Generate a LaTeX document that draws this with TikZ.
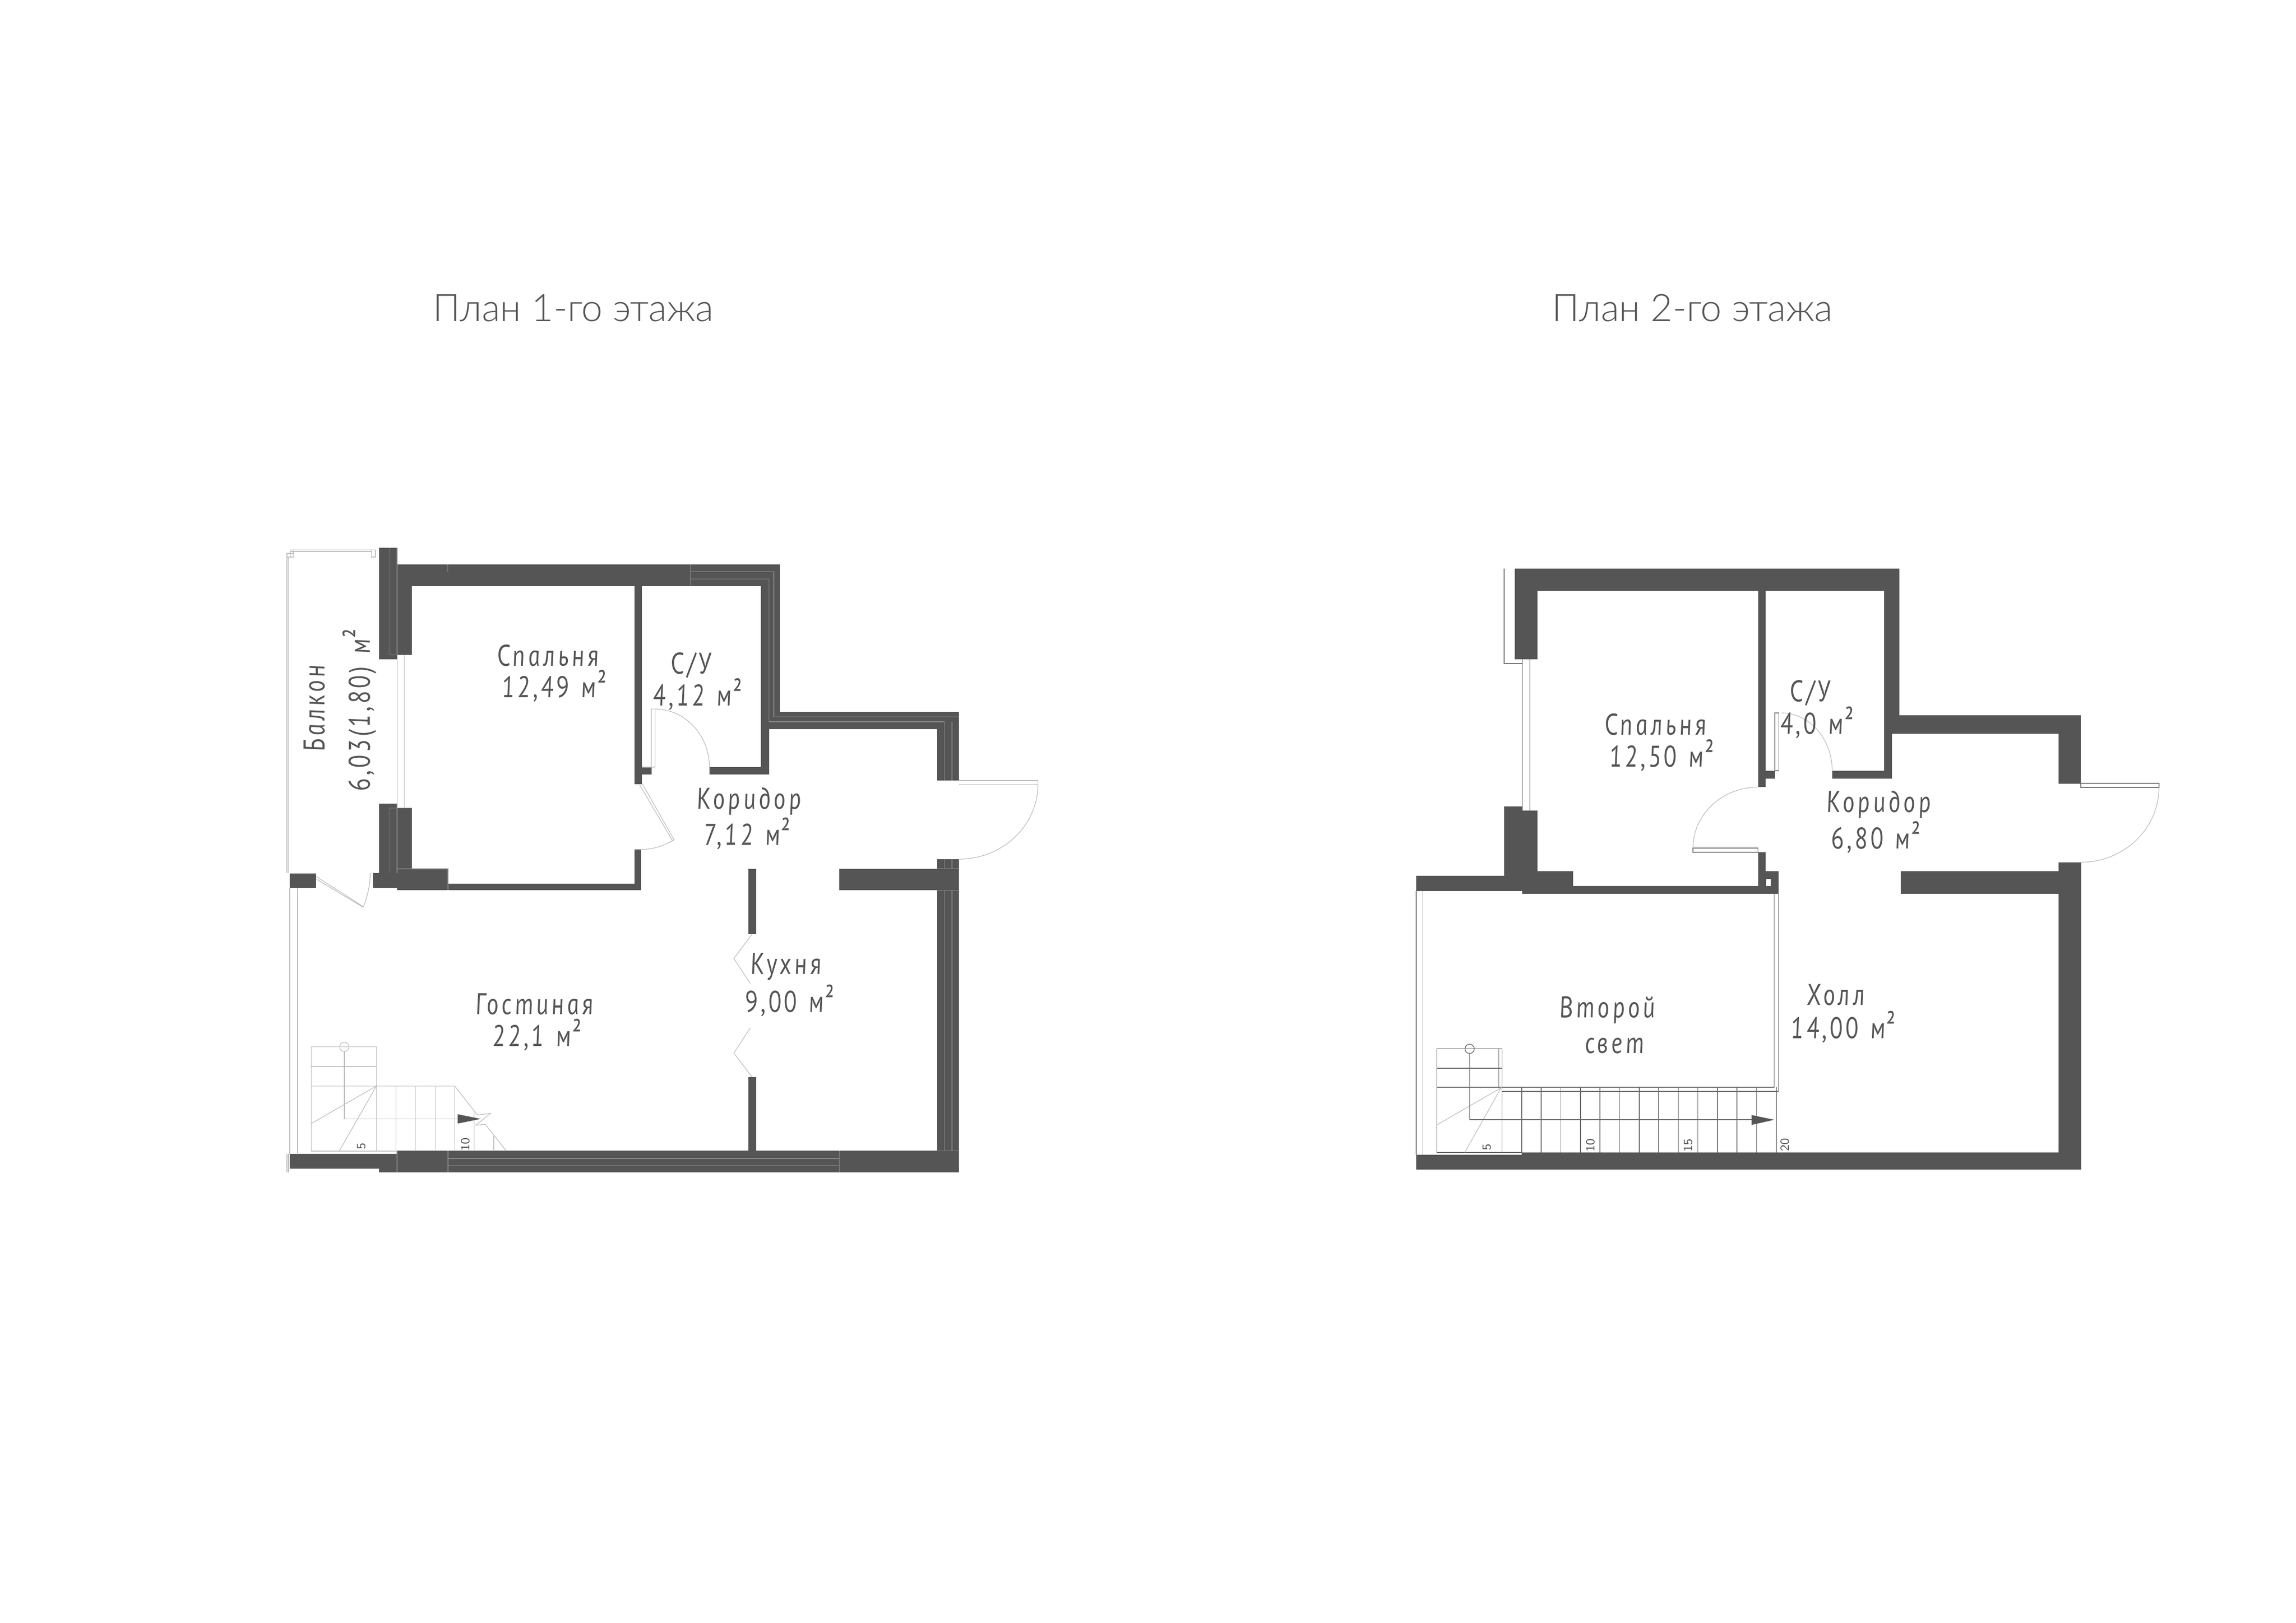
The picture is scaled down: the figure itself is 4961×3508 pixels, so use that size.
\documentclass[tikz,border=0pt]{standalone}
\usepackage{fontspec}
\usetikzlibrary{calc}
\newfontfamily\roomfont{PT Sans}[UprightFont={* Italic},FakeSlant=-0.13,FakeStretch=0.81,LetterSpace=10,WordSpace=1.3]
\newfontfamily\titlefont{Lato Light}
\definecolor{wallgrey}{HTML}{555555}
\definecolor{seamgrey}{HTML}{8C8C8C}
\definecolor{palegrey}{HTML}{BDBDBD}
\definecolor{stairgrey}{HTML}{6A6A6A}
\tikzset{
  wall/.style={fill=wallgrey,draw=none},
  seam/.style={draw=seamgrey,line width=0.14mm},
  paleline/.style={draw=palegrey,line width=0.14mm},
  darkline/.style={draw=stairgrey,line width=0.16mm},
  room/.style={font=\roomfont\fontsize{18.4pt}{20pt}\selectfont,text=wallgrey,anchor=base,inner sep=0pt},
  flight/.style={font=\sffamily\fontsize{7.6pt}{8pt}\selectfont,text=wallgrey,rotate=90,inner sep=0pt},
  plantitle/.style={font=\titlefont\fontsize{23.3pt}{26pt}\selectfont,text=wallgrey,anchor=base,inner sep=0pt}
}
% quarter swing of a door: start, corner, end
\newcommand{\doorswing}[4][paleline]{%
  \draw[#1] (#2) .. controls ($(#2)!0.5523!(#3)$) and ($(#4)!0.5523!(#3)$) .. (#4);}
% the raised square sign
\newcommand{\sqsign}{\raisebox{0.7mm}{²}}

\begin{document}
\begin{tikzpicture}[x=0.1mm,y=-0.1mm]
    \useasboundingbox (0,0) rectangle (4961,3508);

    \node[plantitle] (title1) at (1239,695) {План 1-го этажа};
    \node[plantitle] (title2) at (3657,695) {План 2-го этажа};

    % first floor, walls
    \fill[wall] (819,1184) rectangle (858,1425);
    \fill[wall] (858,1220) rectangle (1685,1267);
    \fill[wall] (857,1266) rectangle (890,1416);
    \fill[wall] (1370.5,1266) rectangle (1386.6,1695);
    \fill[wall] (1386,1658) rectangle (1408,1674.4);
    \fill[wall] (1370.5,1836) rectangle (1385.4,1924);
    \fill[wall] (858,1909.6) rectangle (1385.4,1924);
    \fill[wall] (858,1878) rectangle (968,1924);
    \fill[wall] (819,1737) rectangle (858.5,1887.5);
    \fill[wall] (857,1746.3) rectangle (890,1878.5);
    \fill[wall] (626,1887.5) rectangle (683,1919);
    \fill[wall] (806,1887) rectangle (858,1919);
    \fill[wall] (1644.4,1266) rectangle (1684.6,1576.4);
    \fill[wall] (1644.4,1576) rectangle (1661.6,1674.4);
    \fill[wall] (1532.8,1658) rectangle (1661.6,1674.4);
    \fill[wall] (1684,1539.2) rectangle (2071.7,1576.4);
    \fill[wall] (2025,1576) rectangle (2071.7,1687);
    \fill[wall] (2025.4,1857) rectangle (2072,2488);
    \fill[wall] (1813.4,1877.5) rectangle (2072,1924.4);
    \fill[wall] (1617.2,1877.5) rectangle (1634.4,2019);
    \fill[wall] (1617.2,2328) rectangle (1634.4,2488);
    \fill[wall] (858,2487.3) rectangle (2072,2534);
    \fill[wall] (626,2494) rectangle (858.5,2526);
    \fill[wall] (819,2526) rectangle (858.5,2534);

    % first floor, seams inside the walls
    \draw[seam] (842.3,1184) -- (842.3,1415.7) -- (890,1415.7) (858,1184) -- (858,1416);
    \draw[seam] (967.5,1220) -- (967.5,1235.6);
    \draw[seam] (1491.3,1220) -- (1491.3,1267);
    \draw[seam] (1491.3,1235.6) -- (1671.8,1235.6) -- (1671.8,1549.4) -- (2071.7,1549.4);
    \draw[seam] (1491.3,1251.4) -- (1661.6,1251.4) -- (1661.6,1560) -- (2040.5,1560) -- (2040.5,1687);
    \draw[seam] (2057,1560) -- (2057,1687);
    \draw[seam] (842.3,1887) -- (842.3,1746.3) -- (890,1746.3) (858,1737) -- (858,1887);
    \draw[seam] (858,1878) -- (968,1878) -- (968,1924);
    \draw[seam] (968,2487.3) -- (968,2534) (968,2504) -- (1813.4,2504) (968,2519.4) -- (1813.4,2519.4);
    \draw[seam] (1813.4,2487.3) -- (1813.4,2534);
    \draw[seam] (858,2487.3) -- (858,2534) (1813.4,1877.5) -- (1813.4,1924.4);
    \draw[seam] (2025.4,1877.5) -- (2072,1877.5) (2025.4,1924.4) -- (2072,1924.4) (2025.4,2487.3) -- (2072,2487.3);
    \foreach \x in {2040.7,2057} {
        \draw[seam] (\x,1857) -- (\x,1877.5);
        \draw[seam] (\x,1924.4) -- (\x,2487.3);
    }

    % first floor, windows and balcony rail
    \draw[paleline] (858.4,1416) -- (858.4,1746) (873.3,1416) -- (873.3,1746);
    \draw[paleline] (627.6,1188.7) -- (810.8,1188.7) (627.6,1192) -- (802.7,1192);
    \draw[paleline] (802.7,1188.7) rectangle (810.8,1204);
    \draw[paleline] (620,1196) rectangle (634.5,1204) (627.6,1188.7) rectangle (634.5,1204);
    \draw[paleline] (620,1204) -- (620,1887) (623.6,1204) -- (623.6,1887);
    \draw[paleline] (626,1919) -- (626,2495) (643,1919) -- (643,2495);
    \draw[paleline] (620,2494) -- (620,2534) (623,2494) -- (623,2534);

    % first floor, doors
    \draw[paleline] (1382,1696) -- (1453,1817) -- (1456.6,1815) -- (1387.7,1694);
    \draw[paleline] (1456.6,1815) .. controls (1428,1832) and (1405,1836) .. (1385.4,1836);
    \draw[paleline] (683.3,1894.5) -- (785.4,1960) (683.3,1900) -- (783,1960);
    \draw[paleline] (785.4,1960) .. controls (795,1935) and (800,1910) .. (800,1887);
    \draw[paleline] (1407,1658) -- (1407,1532.6) -- (1415.4,1532.6) -- (1415.4,1658) -- (1386.6,1658);
    \doorswing{1415.4,1532.6}{1532.8,1532.6}{1532.8,1658}
    \draw[paleline] (2071.7,1687) -- (2242.6,1687) -- (2242.6,1695.3) -- (2071.7,1695.3);
    \doorswing{2242.6,1695.3}{2242.6,1857}{2071.7,1857}
    \draw[paleline] (1625,2019) -- (1585.6,2071.8) -- (1621,2125.5);
    \draw[paleline] (1621,2222) -- (1585.6,2276) -- (1625,2328);

    % first floor, stair
    \draw[paleline] (672.5,2262.3) rectangle (813.4,2488);
    \draw[paleline] (672.5,2305) -- (813.4,2305) (672.5,2347.2) -- (982.4,2347.2);
    \foreach \x in {855.5,897.6,940.3,982.4} {
        \draw[paleline] (\x,2347.2) -- (\x,2488);
    }
    \draw[paleline] (672.5,2488) -- (858,2488);
    \draw[paleline] (1024.5,2403) -- (1024.5,2488) (1067,2454.7) -- (1067,2488);
    \draw[paleline] (982.4,2347.2) -- (1031.5,2410) -- (1060,2406.5) -- (1028,2432) -- (1048.7,2430.3) -- (1093.4,2487);
    \draw[paleline] (672.5,2428.5) -- (813.4,2347.2) -- (733,2488);
    \draw[paleline] (744,2262.8) circle[radius=10];
    \draw[paleline] (744,2272.8) -- (744,2418.4) -- (988.8,2418.4);
    \fill[wallgrey] (988.8,2408.3) -- (1039,2418.4) -- (988.8,2428.5) -- cycle;
    \node[flight] (step5a) at (781,2477.6) {5};
    \node[flight] (step10a) at (1006,2473.5) {10};

    % first floor, rooms
    \node[room] (bed1) at (1186,1439) {Спальня};
    \node[room] (bed1area) at (1198,1507.6) {12,49 м\sqsign};
    \node[room] (bath1) at (1495,1456.5) {С/У};
    \node[room] (bath1area) at (1508,1525) {4,12 м\sqsign};
    \node[room] (hall1) at (1620,1748) {Коридор};
    \node[room] (hall1area) at (1615,1826.4) {7,12 м\sqsign};
    \node[room] (living) at (1157,2192) {Гостиная};
    \node[room] (livingarea) at (1161,2261) {22,1 м\sqsign};
    \node[room] (kitchen) at (1700,2105) {Кухня};
    \node[room] (kitchenarea) at (1707,2187.5) {9,00 м\sqsign};
    \node[room,rotate=90] (balcony) at (701.7,1528.5) {Балкон};
    \node[room,rotate=90] (balconyarea) at (799,1534) {6,03(1,80) м\sqsign};

    % second floor, walls
    \fill[wall] (3273,1229) rectangle (4104,1277);
    \fill[wall] (3273,1276) rectangle (3321.5,1425);
    \fill[wall] (3798.5,1276) rectangle (3815,1701.4);
    \fill[wall] (3814,1665.7) rectangle (3835,1682.5);
    \fill[wall] (3798.5,1842) rectangle (3815.4,1915);
    \fill[wall] (3815,1883) rectangle (3842.5,1931.5);
    \fill[wall] (3289,1914.7) rectangle (3842.5,1931.5);
    \fill[wall] (3321,1883) rectangle (3399,1915);
    \fill[wall] (3250,1742.8) rectangle (3289.6,1893);
    \fill[wall] (3289,1752.4) rectangle (3321.5,1926);
    \fill[wall] (3060,1893) rectangle (3289.6,1926);
    \fill[white] (3815.6,1900) rectangle (3825.8,1914.6);
    \fill[wall] (4071,1276) rectangle (4104,1585.6);
    \fill[wall] (4071,1546.3) rectangle (4496,1585.6);
    \fill[wall] (4071,1585) rectangle (4087.8,1682.5);
    \fill[wall] (3958.8,1665.7) rectangle (4087.8,1682.5);
    \fill[wall] (4448,1546.3) rectangle (4496,1693.8);
    \fill[wall] (4448,1863.7) rectangle (4496.7,2528.3);
    \fill[wall] (4106.5,1883) rectangle (4448.5,1931.5);
    \fill[wall] (3288.3,2490.8) rectangle (4496.7,2528.3);
    \fill[wall] (3060,2495.5) rectangle (3289,2528.3);

    % second floor, windows and void edge
    \draw[darkline] (3289.6,1425) -- (3289.6,1752.4) (3305.5,1425) -- (3305.5,1752.4);
    \draw[darkline] (3250,1229) -- (3250,1434) -- (3289.6,1434);
    \draw[darkline] (3060,1926) -- (3060,2496) (3074.6,1926) -- (3074.6,2496);
    \draw[darkline] (3833.6,1931.4) -- (3833.6,2350) -- (3245.6,2350);
    \draw[darkline] (3842.5,1931.4) -- (3842.5,2358.7) -- (3245.6,2358.7);

    % second floor, doors
    \draw[darkline] (3658,1833) rectangle (3798.5,1842);
    \doorswing{3798.5,1701.4}{3658,1701.4}{3658,1833}
    \draw[darkline] (3835,1541) rectangle (3843.5,1665.7);
    \doorswing{3849,1541}{3958.8,1541}{3958.8,1665.7}
    \draw[darkline] (4496,1692.8) rectangle (4664.8,1702);
    \doorswing{4664.8,1702}{4664.8,1863.7}{4496,1863.7}

    % second floor, stair
    \draw[darkline] (3104.6,2266.3) rectangle (3245.6,2490.8);
    \draw[darkline] (3238.5,2266.3) -- (3238.5,2350);
    \draw[darkline] (3104.6,2308.7) -- (3245.6,2308.7) (3104.6,2350) -- (3245.6,2350);
    \foreach \i in {0,...,14} {
        \draw[darkline] ({3245.6+\i*42.3},2350) -- ({3245.6+\i*42.3},2490.8);
    }
    \draw[darkline] (3104.6,2490.8) -- (3288.3,2490.8);
    \draw[paleline] (3104.6,2431.4) -- (3243.6,2351) -- (3165,2490.8);
    \draw[darkline] (3175.4,2267) circle[radius=10];
    \draw[darkline] (3175.4,2277) -- (3175.4,2419.8) -- (3784.5,2419.8);
    \fill[wallgrey] (3784.5,2410) -- (3833.6,2420.3) -- (3784.5,2431.4) -- cycle;
    \node[flight] (step5b) at (3213,2479.6) {5};
    \node[flight] (step10b) at (3437,2475) {10};
    \node[flight] (step15b) at (3647.3,2475) {15};
    \node[flight] (step20b) at (3857,2474) {20};

    % second floor, rooms
    \node[room] (bed2) at (3579,1588) {Спальня};
    \node[room] (bed2area) at (3591,1657) {12,50 м\sqsign};
    \node[room] (bath2) at (3913,1516.7) {С/У};
    \node[room] (bath2area) at (3926.5,1586.6) {4,0 м\sqsign};
    \node[room] (hall2) at (4061,1755.5) {Коридор};
    \node[room] (hall2area) at (4054,1834) {6,80 м\sqsign};
    \node[room] (void) at (3475,2199) {Второй};
    \node[room] (voidline) at (3490,2276) {свет};
    \node[room] (foyer) at (3968,2172.5) {Холл};
    \node[room] (foyerarea) at (3983.5,2244) {14,00 м\sqsign};

\end{tikzpicture}
\end{document}
